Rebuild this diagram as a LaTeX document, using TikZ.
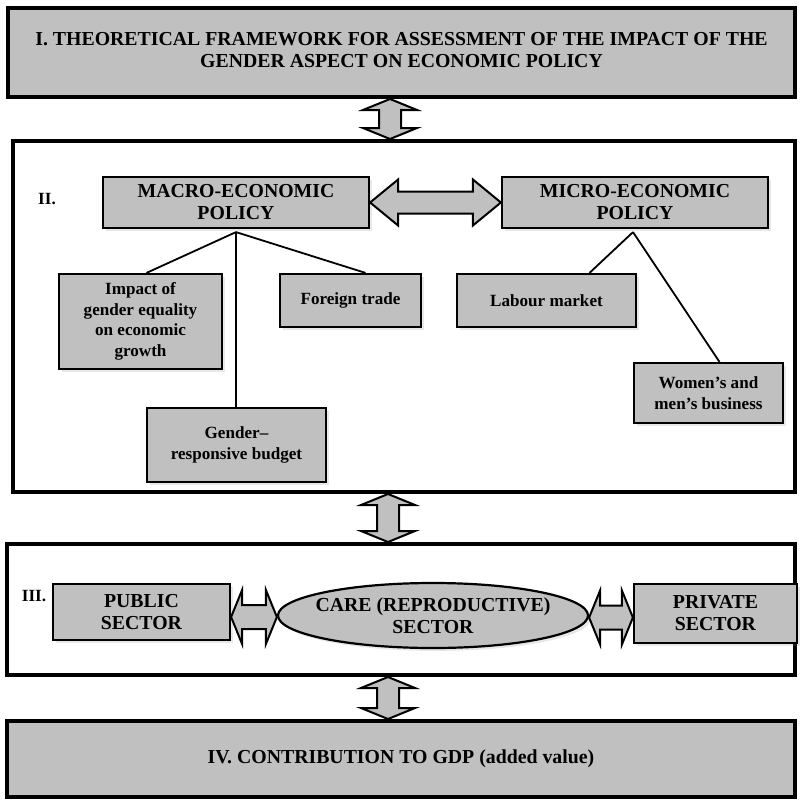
\documentclass[tikz,border=0pt]{standalone}
\usepackage{fontspec}
\setmainfont{Liberation Serif}
\usetikzlibrary{calc,shapes.geometric,shadows}
\definecolor{boxgray}{HTML}{C0C0C0}
\newcommand\capsfont{\bfseries\fontsize{19.8}{22}\selectfont}
\newcommand\lowfont{\bfseries\fontsize{17.1}{20.5}\selectfont}
\tikzset{
  frame/.style={draw=black,line width=4pt},
  shade/.style={drop shadow={opacity=0.18,shadow xshift=3pt,shadow yshift=-3pt}},
  graybox/.style={draw=black,line width=2.2pt,fill=boxgray,align=center,inner sep=0pt,shade,font=\capsfont},
  lowbox/.style={graybox,font=\lowfont},
  conn/.style={draw=black,line width=1.8pt},
  blockarrow/.style={draw=black,line width=2pt,fill=boxgray,line join=miter},
}
\newcommand\vdarr[2]{%
  \draw[blockarrow] let \p1=#1, \p2=#2 in
    (\x1,\y1) -- (\x1+27pt,\y1-11pt) -- (\x1+11pt,\y1-11pt) -- (\x1+11pt,\y2+11pt)
    -- (\x1+27pt,\y2+11pt) -- (\x1,\y2) -- (\x1-27pt,\y2+11pt) -- (\x1-11pt,\y2+11pt)
    -- (\x1-11pt,\y1-11pt) -- (\x1-27pt,\y1-11pt) -- cycle;}
% #1 left tip, #2 right tip, #3 head length, #4 head half height, #5 shaft half height
\newcommand\hdarr[5]{%
  \draw[blockarrow] let \p1=#1, \p2=#2 in
    (\x1,\y1) -- (\x1+#3,\y1+#4) -- (\x1+#3,\y1+#5) -- (\x2-#3,\y1+#5)
    -- (\x2-#3,\y1+#4) -- (\x2,\y1) -- (\x2-#3,\y1-#4) -- (\x2-#3,\y1-#5)
    -- (\x1+#3,\y1-#5) -- (\x1+#3,\y1-#4) -- cycle;}
\begin{document}
\begin{tikzpicture}[x=1pt,y=-1pt]
\useasboundingbox (0,0) rectangle (801,803);
% frames
\node[frame,fill=boxgray,minimum width=787pt,minimum height=89pt,inner sep=0pt,align=center,
  font=\capsfont] (b1) at (401.5,52.5)
  {\raisebox{3pt}{\begin{tabular}{@{}c@{}}I. THEORETICAL FRAMEWORK FOR ASSESSMENT OF THE IMPACT OF THE\\GENDER ASPECT ON ECONOMIC POLICY\end{tabular}}};
\node[frame,fill=white,minimum width=782pt,minimum height=351pt,inner sep=0pt] (b2) at (404,316.5) {};
\node[frame,fill=white,minimum width=788pt,minimum height=131pt,inner sep=0pt] (b3) at (401,609.5) {};
\node[frame,fill=boxgray,minimum width=788pt,minimum height=76pt,inner sep=0pt,
  font=\capsfont] (b4) at (401,759)
  {\raisebox{-8pt}{IV. CONTRIBUTION TO GDP (added value)}};
% section II
\node[font=\lowfont] (l2) at (47,199) {II.};
\node[graybox,minimum width=266pt,minimum height=51pt] (macro) at (236,202.5) {MACRO-ECONOMIC\\POLICY};
\node[graybox,minimum width=266pt,minimum height=51pt] (micro) at (635,202.5) {MICRO-ECONOMIC\\POLICY};
\node[lowbox,minimum width=163pt,minimum height=95pt] (impact) at (140.5,321.5) {Impact of\\gender equality\\on economic\\growth};
\node[lowbox,minimum width=141pt,minimum height=53pt] (foreign) at (350.5,300.5) {Foreign trade};
\node[lowbox,minimum width=179pt,minimum height=53pt] (labour) at (546.5,300.5) {Labour market};
\node[lowbox,minimum width=179pt,minimum height=74pt] (gender) at (236.5,445) {\raisebox{7pt}{\begin{tabular}{@{}c@{}}Gender–\\responsive budget\end{tabular}}};
\node[lowbox,minimum width=149pt,minimum height=60pt] (women) at (708.5,393) {Women’s and\\men’s business};
% connectors
\coordinate (mac) at ([yshift=-3pt]macro.south);
\coordinate (mic) at ([yshift=-3pt]micro.south);
\draw[conn] (mac) -- ([xshift=6pt]impact.north);
\draw[conn] (mac) -- ([xshift=15pt]foreign.north);
\draw[conn] (mac) -- (mac |- gender.north);
\draw[conn] ([xshift=-2pt]mic) -- ([xshift=43pt]labour.north);
\draw[conn] ([xshift=-2pt]mic) -- ([xshift=11pt]women.north);
\hdarr{(macro.east)}{(micro.west)}{28pt}{23pt}{11pt}
% section III
\node[font=\lowfont] (l3) at (34,596) {III.};
\node[graybox,minimum width=177pt,minimum height=56pt] (public) at (141.5,612) {PUBLIC\\SECTOR};
\node[graybox,ellipse,inner xsep=-8pt,inner ysep=0pt,minimum width=310pt,minimum height=65pt] (care) at (433,615.5) {CARE (REPRODUCTIVE)\\SECTOR};
\node[graybox,minimum width=163pt,minimum height=59pt] (private) at (715.5,613.5) {PRIVATE\\SECTOR};
\hdarr{([yshift=-5pt]public.east)}{([yshift=-5pt]care.west)}{11pt}{27pt}{12pt}
\hdarr{([yshift=-2pt]care.east)}{([yshift=-2pt]private.west)}{11pt}{27pt}{12pt}
% vertical arrows
\vdarr{([xshift=-11.5pt]b1.south)}{([xshift=-14pt]b2.north)}
\vdarr{([xshift=-16pt]b2.south)}{([xshift=-13pt]b3.north)}
\vdarr{([xshift=-13pt]b3.south)}{([xshift=-13pt]b4.north)}
\end{tikzpicture}
\end{document}
